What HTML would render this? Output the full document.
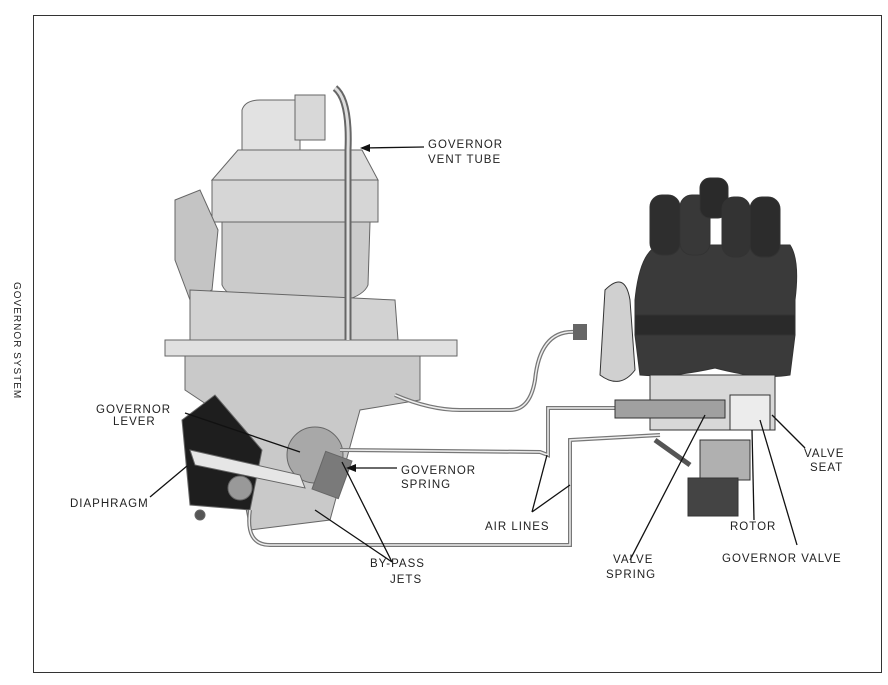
<!DOCTYPE html>
<html><head><meta charset="utf-8"><style>
html,body{margin:0;padding:0;background:#fff;}
svg{display:block;}
text{font-family:"Liberation Sans",sans-serif;font-size:11.5px;fill:#222;letter-spacing:1px;}
</style></head><body>
<svg width="888" height="685" viewBox="0 0 888 685" xmlns="http://www.w3.org/2000/svg">
<rect x="0" y="0" width="888" height="685" fill="#fff"/>
<rect x="33.5" y="15.5" width="848" height="657" fill="none" stroke="#333" stroke-width="1"/>
<text transform="translate(14,282) rotate(90)" style="font-size:10px">GOVERNOR SYSTEM</text>

<!-- Carburetor -->
<g stroke="#666" stroke-width="1">
<path d="M242,110 Q245,100 260,100 L300,100 L300,150 L242,175 Z" fill="#e2e2e2"/>
<rect x="295" y="95" width="30" height="45" fill="#d8d8d8"/>
<path d="M212,180 L378,180 L378,222 L212,222 Z" fill="#d6d6d6"/>
<path d="M222,222 L370,222 L368,285 Q360,305 295,305 Q230,305 222,285 Z" fill="#cbcbcb"/>
<path d="M238,150 L362,150 L378,180 L212,180 Z" fill="#dcdcdc"/>
<path d="M175,200 L200,190 L218,230 L212,290 L190,300 L175,260 Z" fill="#c4c4c4"/>
<path d="M190,290 L395,300 L398,340 L190,340 Z" fill="#d2d2d2"/>
<rect x="165" y="340" width="292" height="16" fill="#e0e0e0"/>
<path d="M185,356 L420,356 L420,400 L360,410 L330,520 L250,530 L230,420 L185,390 Z" fill="#c9c9c9"/>
<path d="M182,420 L215,395 L262,450 L250,510 L190,505 Z" fill="#1e1e1e"/>
<circle cx="315" cy="455" r="28" fill="#a8a8a8"/>
<path d="M190,450 L300,475 L305,488 L195,465 Z" fill="#e6e6e6"/>
<rect x="318" y="455" width="28" height="40" fill="#7a7a7a" transform="rotate(20 332 475)"/>
<circle cx="240" cy="488" r="12" fill="#999"/>
<circle cx="200" cy="515" r="5" fill="#555"/>
</g>
<path d="M335,88 Q350,100 348,150 L348,340" stroke="#666" stroke-width="7" fill="none"/>
<path d="M335,88 Q350,100 348,150 L348,340" stroke="#ddd" stroke-width="3" fill="none"/>
<g fill="none" stroke="#777" stroke-width="4">
<path d="M395,395 Q430,410 460,410 L510,410 Q530,410 535,380 Q540,330 575,332"/>
<path d="M340,450 L540,452 L548,455 L548,408 L620,408"/>
<path d="M250,510 Q245,545 270,545 L570,545 L570,440 L660,435"/>
</g>
<g fill="none" stroke="#eee" stroke-width="1.5">
<path d="M395,395 Q430,410 460,410 L510,410 Q530,410 535,380 Q540,330 575,332"/>
<path d="M340,450 L540,452 L548,455 L548,408 L620,408"/>
<path d="M250,510 Q245,545 270,545 L570,545 L570,440 L660,435"/>
</g>
<rect x="573" y="324" width="14" height="16" fill="#666"/>

<!-- Distributor -->
<g stroke="#333" stroke-width="1">
<path d="M605,290 Q625,270 630,300 L635,370 Q620,390 600,375 Z" fill="#d0d0d0"/>
<path d="M635,300 Q640,250 660,245 L790,245 Q800,260 795,300 L795,315 L635,315 Z" fill="#3a3a3a"/>
<rect x="650" y="195" width="30" height="60" rx="12" fill="#2e2e2e"/>
<rect x="680" y="195" width="30" height="60" rx="12" fill="#383838"/>
<rect x="700" y="178" width="28" height="40" rx="10" fill="#2a2a2a"/>
<rect x="722" y="197" width="28" height="60" rx="12" fill="#333"/>
<rect x="750" y="197" width="30" height="60" rx="12" fill="#2c2c2c"/>
<rect x="635" y="315" width="160" height="20" fill="#2a2a2a"/>
<path d="M635,335 L795,335 L790,375 Q760,380 715,368 Q670,378 640,375 Z" fill="#3a3a3a"/>
<rect x="650" y="375" width="125" height="55" fill="#d8d8d8"/>
<rect x="615" y="400" width="110" height="18" fill="#a0a0a0"/>
<rect x="730" y="395" width="40" height="35" fill="#ececec"/>
<rect x="700" y="440" width="50" height="40" fill="#b0b0b0"/>
<rect x="688" y="478" width="50" height="38" fill="#444"/>
<path d="M655,440 L690,465" stroke="#555" stroke-width="5"/>
</g>

<g stroke="#111" stroke-width="1.3" fill="none">
<path d="M424,147 L362,148"/>
<path d="M185,413 L300,452"/>
<path d="M397,468 L348,468"/>
<path d="M150,497 L187,466"/>
<path d="M532,512 L547,455 M532,512 L570,485"/>
<path d="M392,562 L342,462 M392,562 L315,510"/>
<path d="M630,560 L705,415"/>
<path d="M754,520 L752,430"/>
<path d="M797,545 L760,420"/>
<path d="M805,448 L772,415"/>
</g>
<g fill="#111">
<path d="M360,148 L370,144 L370,152 Z"/>
<path d="M346,468 L356,464 L356,472 Z"/>
</g>

<text x="428" y="148">GOVERNOR</text>
<text x="428" y="163">VENT TUBE</text>
<text x="96" y="413">GOVERNOR</text>
<text x="113" y="425">LEVER</text>
<text x="401" y="474">GOVERNOR</text>
<text x="401" y="488">SPRING</text>
<text x="70" y="507">DIAPHRAGM</text>
<text x="485" y="530">AIR LINES</text>
<text x="370" y="567">BY-PASS</text>
<text x="390" y="583">JETS</text>
<text x="613" y="563">VALVE</text>
<text x="606" y="578">SPRING</text>
<text x="730" y="530">ROTOR</text>
<text x="722" y="562">GOVERNOR VALVE</text>
<text x="804" y="457">VALVE</text>
<text x="810" y="471">SEAT</text>
</svg>
</body></html>
